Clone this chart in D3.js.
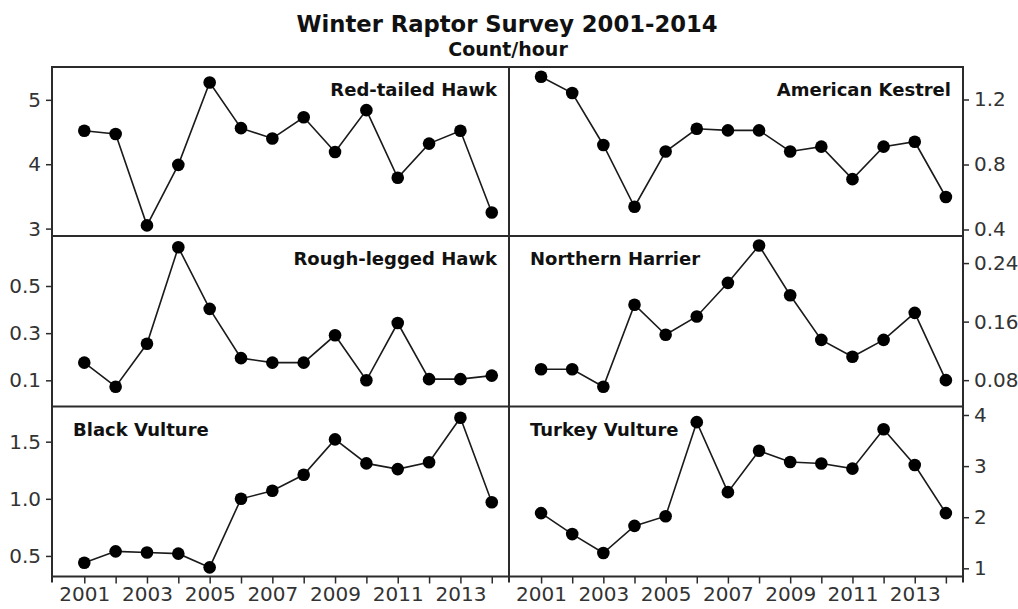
<!DOCTYPE html>
<html>
<head>
<meta charset="utf-8">
<script src="https://cdn.jsdelivr.net/npm/d3@7"></script>
<style>
  html, body { margin: 0; padding: 0; background: #fff; }
  svg { display: block; font-family: "DejaVu Sans", Verdana, sans-serif; }
</style>
</head>
<body>
<div id="chart"></div>
<script>
const years = [2001, 2002, 2003, 2004, 2005, 2006, 2007, 2008, 2009, 2010, 2011, 2012, 2013, 2014];
const yearLabels = [2001, 2003, 2005, 2007, 2009, 2011, 2013];

const redTailedHawk   = [4.52, 4.47, 3.05, 3.99, 5.27, 4.56, 4.40, 4.73, 4.19, 4.84, 3.79, 4.32, 4.52, 3.25];
const americanKestrel = [1.34, 1.24, 0.92, 0.54, 0.88, 1.02, 1.01, 1.01, 0.88, 0.91, 0.71, 0.91, 0.94, 0.60];
const roughLeggedHawk = [0.175, 0.073, 0.255, 0.664, 0.403, 0.194, 0.175, 0.175, 0.291, 0.100, 0.343, 0.105, 0.105, 0.120];
const northernHarrier = [0.095, 0.095, 0.071, 0.183, 0.142, 0.167, 0.213, 0.264, 0.196, 0.135, 0.112, 0.135, 0.172, 0.080];
const blackVulture    = [0.44, 0.54, 0.53, 0.52, 0.40, 1.00, 1.07, 1.21, 1.52, 1.31, 1.26, 1.32, 1.71, 0.97];
const turkeyVulture   = [2.08, 1.67, 1.30, 1.83, 2.02, 3.86, 2.49, 3.30, 3.08, 3.05, 2.95, 3.72, 3.02, 2.08];

const redTicks     = [3, 4, 5];
const kestrelTicks = [0.4, 0.8, 1.2];
const roughTicks   = [0.1, 0.3, 0.5];
const harrierTicks = [0.08, 0.16, 0.24];
const blackTicks   = [0.5, 1.0, 1.5];
const turkeyTicks  = [1, 2, 3, 4];

const panels = [
  { name: 'Red-tailed Hawk',   values: redTailedHawk,   ticks: redTicks,     fmt: d3.format('d'),   domain: [2.885, 5.51], col: 0, row: 0, labelSide: 'right' },
  { name: 'American Kestrel',  values: americanKestrel, ticks: kestrelTicks, fmt: d3.format('.1f'), domain: [0.36, 1.40],  col: 1, row: 0, labelSide: 'right' },
  { name: 'Rough-legged Hawk', values: roughLeggedHawk, ticks: roughTicks,   fmt: d3.format('.1f'), domain: [-0.011, 0.712], col: 0, row: 1, labelSide: 'right' },
  { name: 'Northern Harrier',  values: northernHarrier, ticks: harrierTicks, fmt: d3.format('.2f'), domain: [0.044, 0.277], col: 1, row: 1, labelSide: 'left' },
  { name: 'Black Vulture',     values: blackVulture,    ticks: blackTicks,   fmt: d3.format('.1f'), domain: [0.32, 1.808], col: 0, row: 2, labelSide: 'left' },
  { name: 'Turkey Vulture',    values: turkeyVulture,   ticks: turkeyTicks,  fmt: d3.format('d'),   domain: [0.84, 4.166], col: 1, row: 2, labelSide: 'left' }
];

const width = 1018, height = 609;
const colX = [52, 509, 963];
const rowY = [67, 236, 406.5, 576.5];
const ink = '#1a1a1a';
const frame = '#2b2b2b';
const tickFont = 20;

const svg = d3.select('#chart').append('svg')
  .attr('width', width)
  .attr('height', height);

svg.append('rect').attr('width', width).attr('height', height).attr('fill', '#fff');

// titles
svg.append('text')
  .attr('x', 507).attr('y', 32)
  .attr('text-anchor', 'middle')
  .attr('font-size', 22.7).attr('font-weight', 'bold')
  .attr('fill', '#111')
  .text('Winter Raptor Survey 2001-2014');
svg.append('text')
  .attr('x', 508).attr('y', 56)
  .attr('text-anchor', 'middle')
  .attr('font-size', 19).attr('font-weight', 'bold')
  .attr('fill', '#111')
  .text('Count/hour');

panels.forEach(p => {
  const x0 = colX[p.col], x1 = colX[p.col + 1];
  const y0 = rowY[p.row], y1 = rowY[p.row + 1];
  const w = x1 - x0, h = y1 - y0;

  const g = svg.append('g').attr('transform', `translate(${x0},${y0})`);

  const x = d3.scaleLinear().domain([1999.97, 2014.55]).range([0, w]);
  const y = d3.scaleLinear().domain(p.domain).range([h, 0]);

  // y axis: left column on the left, right column on the right
  const yAxis = (p.col === 0 ? d3.axisLeft(y) : d3.axisRight(y))
    .tickValues(p.ticks).tickFormat(p.fmt).tickSize(6).tickPadding(5);
  const yAxisG = g.append('g')
    .attr('transform', p.col === 0 ? 'translate(0,0)' : `translate(${w},0)`)
    .call(yAxis);
  yAxisG.select('.domain').remove();
  yAxisG.selectAll('line').attr('stroke', frame).attr('stroke-width', 1.5);
  yAxisG.selectAll('text')
    .attr('font-size', tickFont).attr('fill', '#333')
    .attr('font-family', '"DejaVu Sans", Verdana, sans-serif');

  // x axis on bottom row
  if (p.row === 2) {
    const xAxisG = g.append('g')
      .attr('transform', `translate(0,${h})`)
      .call(d3.axisBottom(x).tickValues(years).tickSize(7).tickPadding(3)
        .tickFormat(d => yearLabels.includes(d) ? d : ''));
    xAxisG.select('.domain').remove();
    xAxisG.selectAll('line').attr('stroke', frame).attr('stroke-width', 1.5);
    xAxisG.selectAll('text')
      .attr('font-size', tickFont).attr('fill', '#333')
      .attr('font-family', '"DejaVu Sans", Verdana, sans-serif');
  }

  const line = d3.line()
    .x((d, i) => x(years[i]))
    .y(d => y(d));

  g.append('path')
    .attr('fill', 'none')
    .attr('stroke', ink)
    .attr('stroke-width', 1.6)
    .attr('d', line(p.values));

  g.selectAll('circle.pt').data(p.values).enter().append('circle')
    .attr('class', 'pt')
    .attr('cx', (d, i) => x(years[i]))
    .attr('cy', d => y(d))
    .attr('r', 6.3)
    .attr('fill', '#000');

  // panel label
  g.append('text')
    .attr('x', p.labelSide === 'right' ? w - 12 : 21)
    .attr('y', 29)
    .attr('text-anchor', p.labelSide === 'right' ? 'end' : 'start')
    .attr('font-size', 18).attr('font-weight', 'bold')
    .attr('fill', '#111')
    .text(p.name);
});

// panel frames
const fg = svg.append('g').attr('fill', 'none').attr('stroke', frame).attr('stroke-width', 2);
fg.append('rect')
  .attr('x', colX[0]).attr('y', rowY[0])
  .attr('width', colX[2] - colX[0]).attr('height', rowY[3] - rowY[0]);
fg.append('line').attr('x1', colX[1]).attr('x2', colX[1]).attr('y1', rowY[0]).attr('y2', rowY[3] + 6);
fg.append('line').attr('x1', colX[0]).attr('x2', colX[0]).attr('y1', rowY[3]).attr('y2', rowY[3] + 6);
fg.append('line').attr('x1', colX[2]).attr('x2', colX[2]).attr('y1', rowY[3]).attr('y2', rowY[3] + 6);
[rowY[1], rowY[2]].forEach(yy => {
  fg.append('line').attr('x1', colX[0]).attr('x2', colX[2]).attr('y1', yy).attr('y2', yy);
});
</script>
</body>
</html>
